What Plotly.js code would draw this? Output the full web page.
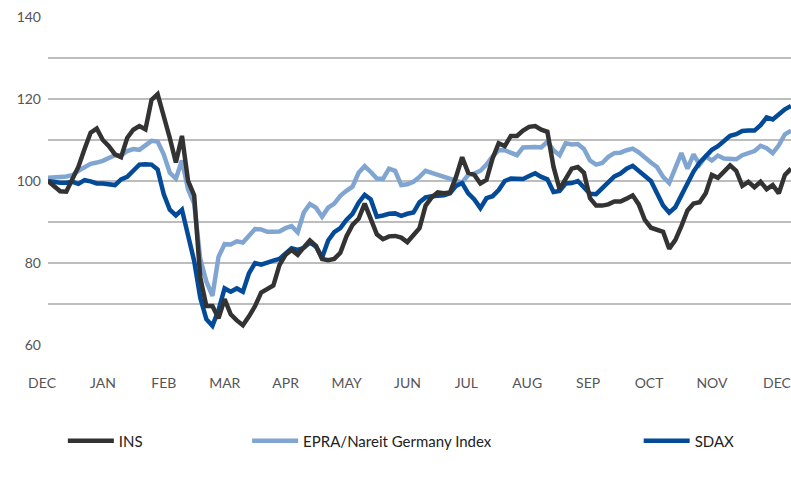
<!DOCTYPE html>
<html>
<head>
<meta charset="utf-8">
<script src="https://cdn.plot.ly/plotly-3.0.1.min.js"></script>
<style>
  html, body { margin: 0; padding: 0; background: #fff; }
  #chart { width: 791px; height: 478px; }
</style>
</head>
<body>
<div id="chart"></div>
<script>
// index values, base 100 at the end of 2019, one reading every 3 days
let insValues = [
  100, 98.8, 97.5, 97.4, 100.5, 103.5, 107.8, 111.8, 112.8, 110,
  108.5, 106.5, 105.8, 110.5, 112.5, 113.4, 112.6, 119.8, 121.2, 116.2,
  110.5, 104.5, 111, 100, 96.5, 76.5, 69.5, 69.5, 66.5, 71.2,
  67.5, 66, 64.8, 67, 69.5, 72.8, 73.5, 74.5, 79.5, 82,
  83.2, 82, 83.8, 85.5, 84.2, 81, 80.7, 81, 82.5, 86.5,
  89.3, 90.8, 94.5, 91, 87, 85.8, 86.5, 86.6, 86.2, 85.1,
  86.7, 88.5, 94, 96, 97.2, 97, 97.2, 101, 105.8, 102,
  101.5, 99.4, 100.3, 105.5, 109.2, 108.5, 111, 111, 112.3, 113.2,
  113.4, 112.5, 112, 103.5, 98, 100.5, 103, 103.4, 102, 95.8,
  94, 94, 94.3, 95, 95, 95.7, 96.5, 94.3, 90.5, 88.6,
  88, 87.6, 83.5, 85.6, 89, 92.8, 94.5, 94.8, 97, 101.5,
  100.8, 102.2, 103.8, 102.5, 98.8, 99.8, 98.5, 99.8, 98, 99,
  97, 101.5, 103
];

let epraValues = [
  100.8, 101, 101, 101.1, 101.4, 102.5, 103.3, 104.2, 104.5, 104.9,
  105.6, 106.3, 106.3, 107.3, 107.8, 107.6, 108.7, 109.8, 109.6, 106.5,
  102, 100.6, 105, 98, 94.5, 81, 75.5, 72, 81.5, 84.6,
  84.5, 85.3, 85, 86.7, 88.3, 88.2, 87.6, 87.6, 87.7, 88.5,
  89, 87.5, 92.3, 94.4, 93.5, 91.3, 93.5, 94.5, 96.4, 97.6,
  98.6, 102, 103.6, 102.2, 100.6, 100.5, 103, 102.5, 99, 99.2,
  99.8, 101, 102.5, 102, 101.5, 101.2, 100.6, 100, 99.6, 101.5,
  101.8, 102.5, 104, 106, 107.5, 107.5, 107, 106.3, 108.2, 108.3,
  108.3, 108.2, 109.6, 107.5, 106.3, 109.2, 108.9, 109, 107.8, 105,
  104, 104.4, 105.9, 106.8, 106.9, 107.5, 107.9, 107, 105.6, 104.5,
  103.4, 101, 99.5, 103.4, 106.8, 103, 106.5, 104, 106, 105,
  106.2, 105.5, 105.3, 105.3, 106.3, 106.8, 107.3, 108.6, 108, 106.8,
  108.7, 111.4, 112.3
];

let sdaxValues = [
  100, 99.7, 99.6, 99.6, 99.8, 99.3, 100.2, 99.9, 99.4, 99.4,
  99.2, 99, 100.4, 101, 102.5, 104, 104.1, 104, 102.8, 96.8,
  93, 91.6, 93, 87.2, 80.5, 71.5, 66.3, 64.7, 68.5, 73.8,
  73, 73.8, 73, 77.5, 80, 79.6, 80.2, 80.6, 81, 82.3,
  83.6, 83.2, 83.7, 85, 84, 81.3, 85.5, 87.5, 88.5, 90.5,
  92, 94.7, 96.6, 95.5, 91.3, 91.6, 92, 92.1, 91.5, 92,
  92.3, 94.8, 96, 96.3, 96.5, 96.5, 97, 98.8, 99.5, 97,
  95.5, 93.4, 95.8, 96.3, 97.8, 100, 100.6, 100.6, 100.5, 101.2,
  101.9, 101, 100.4, 97.3, 97.6, 99.4, 99.5, 100, 98.6, 96.9,
  96.8, 98.2, 99.6, 101.1, 101.8, 103, 103.7, 102.4, 101.2, 100,
  97, 94, 92.3, 93.6, 96.5, 99.5, 102.3, 104.5, 106, 107.6,
  108.5, 109.6, 111, 111.4, 112.2, 112.3, 112.3, 113.6, 115.5, 115,
  116.2, 117.5, 118.3
];

let monthTicks = ['2020-01-01', '2020-01-31', '2020-03-01', '2020-03-31', '2020-04-30',
  '2020-05-30', '2020-06-29', '2020-07-28', '2020-08-27', '2020-09-26',
  '2020-10-26', '2020-11-26', '2020-12-28'];
let monthLabels = ['DEC', 'JAN', 'FEB', 'MAR', 'APR', 'MAY', 'JUN', 'JUL',
  'AUG', 'SEP', 'OCT', 'NOV', 'DEC'];

// dates for the readings: every 3rd day from 30 Dec 2019
let startDay = Date.UTC(2019, 11, 30);
let dates = insValues.map((v, i) =>
  new Date(startDay + i * 3 * 86400000).toISOString().slice(0, 10));

let traceIns = {
  x: dates, y: insValues, name: 'INS', type: 'scatter', mode: 'lines',
  line: {color: '#333333', width: 4.5}, legend: 'legend'
};
let traceEpra = {
  x: dates, y: epraValues, name: 'EPRA/Nareit Germany Index', type: 'scatter', mode: 'lines',
  line: {color: '#7fa5d0', width: 4.5}, legend: 'legend2'
};
let traceSdax = {
  x: dates, y: sdaxValues, name: 'SDAX', type: 'scatter', mode: 'lines',
  line: {color: '#034a98', width: 4.5}, legend: 'legend3'
};

// draw EPRA first, then SDAX, INS on top
let data = [traceEpra, traceSdax, traceIns];

let legendFont = {family: 'Lato, "Noto Sans", sans-serif', size: 15, color: '#222'};
let layout = {
  width: 791,
  height: 478,
  margin: {l: 48, r: 0, t: 17, b: 133},
  paper_bgcolor: '#fff',
  plot_bgcolor: '#fff',
  font: {family: 'Lato, "Noto Sans", sans-serif', color: '#555'},
  showlegend: true,
  xaxis: {
    type: 'date',
    range: ['2019-12-30', '2020-12-30'],
    tickvals: monthTicks,
    ticktext: monthLabels,
    ticklabelshift: -10,
    ticklabelstandoff: 28,
    ticklabeloverflow: 'allow',
    showgrid: false,
    zeroline: false,
    showline: false,
    ticks: '',
    tickfont: {size: 14, color: '#555'}
  },
  yaxis: {
    range: [60, 140],
    tickvals: [60, 80, 100, 120, 140],
    showgrid: true,
    gridcolor: '#bdbdbd',
    gridwidth: 1.2,
    minor: {tickvals: [70, 90, 110, 130], showgrid: true, gridcolor: '#bdbdbd', gridwidth: 1.2},
    zeroline: false,
    showline: false,
    ticks: '',
    ticklabelstandoff: 6,
    tickfont: {size: 14, color: '#555'}
  },
  legend: {x: 0.02, y: -0.293, xanchor: 'left', yanchor: 'middle',
    orientation: 'h', font: legendFont, itemwidth: 46, bgcolor: 'rgba(0,0,0,0)'},
  legend2: {x: 0.268, y: -0.293, xanchor: 'left', yanchor: 'middle',
    orientation: 'h', font: legendFont, itemwidth: 46, bgcolor: 'rgba(0,0,0,0)'},
  legend3: {x: 0.795, y: -0.293, xanchor: 'left', yanchor: 'middle',
    orientation: 'h', font: legendFont, itemwidth: 46, bgcolor: 'rgba(0,0,0,0)'}
};

Plotly.newPlot('chart', data, layout, {displayModeBar: false, staticPlot: true});
</script>
</body>
</html>
